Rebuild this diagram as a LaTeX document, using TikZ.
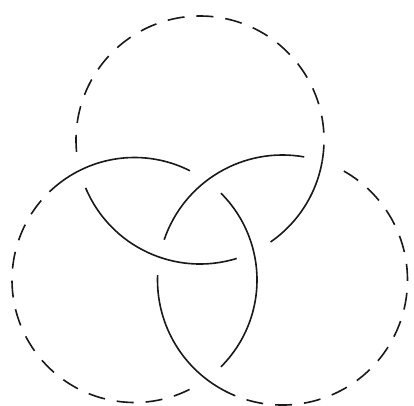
\documentclass[tikz,border=0pt]{standalone}
\begin{document}
\begin{tikzpicture}[x=1pt,y=1pt,
  ring/.style={line width=1.6pt, black!90},
  dashring/.style={ring, dash pattern=on 17pt off 12pt}]
\useasboundingbox (0,0) rectangle (414,405);
\coordinate (T) at (200,265);
\coordinate (L) at (134.5,125);
\coordinate (R) at (282.5,125);
% top circle
\draw[dashring] (T) ++(-10:124) arc[start angle=-10, end angle=185.7, radius=124];
\draw[ring] (T) ++(202.7:124) arc[start angle=202.7, end angle=287.2, radius=124];
\draw[ring] (T) ++(304.7:124) arc[start angle=304.7, end angle=350, radius=124];
% left circle
\draw[dashring] (L) ++(126:122.5) arc[start angle=126, end angle=296.9, radius=122.5];
\draw[ring] (L) ++(-45.1:122.5) arc[start angle=-45.1, end angle=45.1, radius=122.5];
\draw[ring] (L) ++(63.1:122.5) arc[start angle=63.1, end angle=126, radius=122.5];
% right circle
\draw[dashring] (R) ++(240:125) arc[start angle=240, end angle=423, radius=125];
\draw[ring] (R) ++(80:125) arc[start angle=80, end angle=161.2, radius=125];
\draw[ring] (R) ++(177.8:125) arc[start angle=177.8, end angle=240, radius=125];
\end{tikzpicture}
\end{document}
